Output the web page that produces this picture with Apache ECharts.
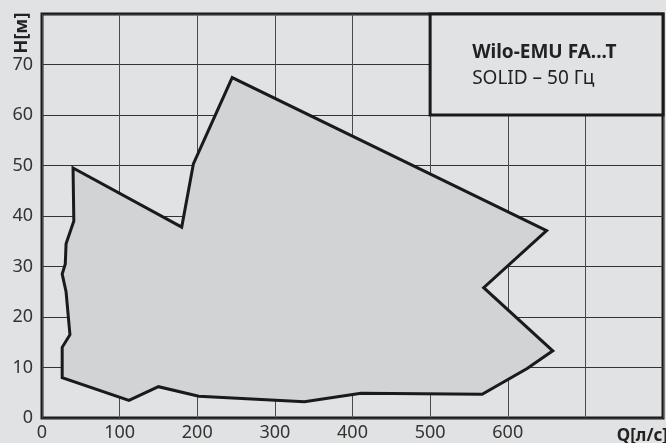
<!DOCTYPE html>
<html>
<head>
<meta charset="utf-8">
<script src="https://cdn.jsdelivr.net/npm/echarts@6/dist/echarts.min.js"></script>
<style>
html,body{margin:0;padding:0;background:#e1e2e4;}
#c{width:666px;height:443px;}
</style>
</head>
<body>
<div id="c"></div>
<script>
// Envelope of the operating field (Q in l/s, H in m)
var envelopeQ = [40, 41, 31, 30, 26, 31, 36, 26, 26, 112, 150, 202, 338, 411, 567, 625, 658, 569, 650, 245, 195, 180];
var envelopeH = [49.5, 39, 34.5, 30.5, 28.5, 25, 16.5, 14, 8, 3.5, 6.2, 4.3, 3.2, 4.9, 4.7, 9.8, 13.3, 25.8, 37.1, 67.4, 50.3, 37.8];
var xTicks = [0, 100, 200, 300, 400, 500, 600];
var yTicks = [0, 10, 20, 30, 40, 50, 60, 70];
var legendBox = [500, 60, 800, 80]; // Qmin, Hmin, Qmax, Hmax
var titleLine1 = 'Wilo-EMU FA...T';
var titleLine2 = 'SOLID – 50 Гц';
var xName = 'Q[л/с]';
var yName = 'H[м]';

var FONT = '"Noto Sans", "DejaVu Sans", sans-serif';
var chart = echarts.init(document.getElementById('c'));

chart.setOption({
  backgroundColor: '#e1e2e4',
  animation: false,
  grid: {
    left: 42, right: 1, top: 14, bottom: 25,
    show: true, borderColor: '#1a1a1a', borderWidth: 3,
    backgroundColor: '#e1e2e4'
  },
  xAxis: {
    type: 'value', min: 0, max: 800, interval: 100,
    axisLine: {show: false}, axisTick: {show: false},
    splitLine: {lineStyle: {color: '#4a4a4a', width: 1}},
    axisLabel: {
      margin: 6, color: '#333', fontSize: 18, fontFamily: FONT,
      formatter: function (v) { return xTicks.indexOf(v) >= 0 ? String(v) : ''; }
    }
  },
  yAxis: {
    type: 'value', min: 0, max: 80, interval: 10,
    axisLine: {show: false}, axisTick: {show: false},
    splitLine: {lineStyle: {color: '#333', width: 1}},
    axisLabel: {
      margin: 9, color: '#333', fontSize: 18, fontFamily: FONT,
      formatter: function (v) { return yTicks.indexOf(v) >= 0 ? String(v) : ''; }
    }
  },
  series: [
    {
      type: 'custom',
      data: [[envelopeQ[0], envelopeH[0]]],
      renderItem: function (params, api) {
        var pts = envelopeQ.map(function (q, i) { return api.coord([q, envelopeH[i]]); });
        return {
          type: 'polygon',
          shape: {points: pts},
          style: {fill: '#d2d3d5', stroke: '#1a1a1a', lineWidth: 3, lineJoin: 'miter'}
        };
      },
      z: 2
    },
    {
      type: 'custom',
      data: [legendBox],
      renderItem: function (params, api) {
        var p1 = api.coord([api.value(0), api.value(3)]);
        var p2 = api.coord([api.value(2), api.value(1)]);
        return {
          type: 'group',
          children: [
            {
              type: 'rect',
              shape: {x: p1[0], y: p1[1], width: p2[0] - p1[0], height: p2[1] - p1[1]},
              style: {fill: '#e1e2e4', stroke: '#1a1a1a', lineWidth: 3}
            },
            {
              type: 'text',
              x: p1[0] + 42,
              y: (p1[1] + p2[1]) / 2 + 1,
              style: {
                text: '{b|' + titleLine1 + '}\n{n|' + titleLine2 + '}',
                verticalAlign: 'middle',
                align: 'left',
                rich: {
                  b: {fontFamily: FONT, fontWeight: 'bold', fontSize: 19, lineHeight: 26, fill: '#222'},
                  n: {fontFamily: FONT, fontWeight: 'normal', fontSize: 19, lineHeight: 26, fill: '#222'}
                }
              }
            }
          ]
        };
      },
      z: 3
    }
  ],
  graphic: [
    {
      type: 'text', x: 22, y: 33, rotation: Math.PI / 2,
      style: {text: yName, fill: '#222', fontFamily: FONT, fontWeight: 'bold', fontSize: 18,
              align: 'center', verticalAlign: 'middle'}
    },
    {
      type: 'text', x: 668, y: 436,
      style: {text: xName, fill: '#222', fontFamily: FONT, fontWeight: 'bold', fontSize: 17,
              align: 'right', verticalAlign: 'middle'}
    }
  ]
});
</script>
</body>
</html>
